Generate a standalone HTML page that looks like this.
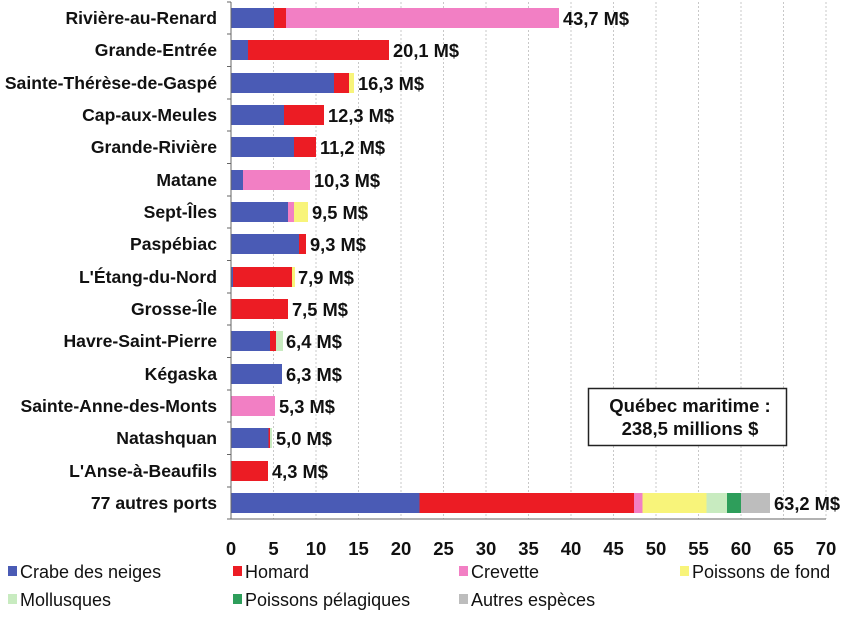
<!DOCTYPE html><html><head><meta charset="utf-8"><style>body{margin:0;background:#fff}svg{display:block}</style></head><body>
<svg width="850" height="617" xmlns="http://www.w3.org/2000/svg" font-family="Liberation Sans, Arial, sans-serif">
<g stroke="#c8c8c8" stroke-dasharray="2,2" stroke-width="1">
<line x1="273.5" y1="2" x2="273.5" y2="519"/><line x1="316" y1="2" x2="316" y2="519"/><line x1="358.5" y1="2" x2="358.5" y2="519"/><line x1="401" y1="2" x2="401" y2="519"/><line x1="443.5" y1="2" x2="443.5" y2="519"/><line x1="486" y1="2" x2="486" y2="519"/><line x1="528.5" y1="2" x2="528.5" y2="519"/><line x1="571" y1="2" x2="571" y2="519"/><line x1="613.5" y1="2" x2="613.5" y2="519"/><line x1="656" y1="2" x2="656" y2="519"/><line x1="698.5" y1="2" x2="698.5" y2="519"/><line x1="741" y1="2" x2="741" y2="519"/><line x1="783.5" y1="2" x2="783.5" y2="519"/><line x1="826" y1="2" x2="826" y2="519"/>
</g>
<g>
<rect x="231" y="8" width="43" height="20" fill="#4a5bb5"/><rect x="274" y="8" width="12" height="20" fill="#ec1c24"/><rect x="286" y="8" width="273" height="20" fill="#f27fc4"/>
<rect x="231" y="40" width="17" height="20" fill="#4a5bb5"/><rect x="248" y="40" width="141" height="20" fill="#ec1c24"/>
<rect x="231" y="73" width="103" height="20" fill="#4a5bb5"/><rect x="334" y="73" width="15" height="20" fill="#ec1c24"/><rect x="349" y="73" width="5" height="20" fill="#f8f47a"/>
<rect x="231" y="105" width="53" height="20" fill="#4a5bb5"/><rect x="284" y="105" width="40" height="20" fill="#ec1c24"/>
<rect x="231" y="137" width="63" height="20" fill="#4a5bb5"/><rect x="294" y="137" width="22" height="20" fill="#ec1c24"/>
<rect x="231" y="170" width="12" height="20" fill="#4a5bb5"/><rect x="243" y="170" width="67" height="20" fill="#f27fc4"/>
<rect x="231" y="202" width="57" height="20" fill="#4a5bb5"/><rect x="288" y="202" width="6" height="20" fill="#f27fc4"/><rect x="294" y="202" width="14" height="20" fill="#f8f47a"/>
<rect x="231" y="234" width="68" height="20" fill="#4a5bb5"/><rect x="299" y="234" width="7" height="20" fill="#ec1c24"/>
<rect x="231" y="267" width="2" height="20" fill="#4a5bb5"/><rect x="233" y="267" width="59" height="20" fill="#ec1c24"/><rect x="292" y="267" width="3" height="20" fill="#f8f47a"/>
<rect x="231" y="299" width="57" height="20" fill="#ec1c24"/>
<rect x="231" y="331" width="39" height="20" fill="#4a5bb5"/><rect x="270" y="331" width="6" height="20" fill="#ec1c24"/><rect x="276" y="331" width="7" height="20" fill="#c8ebc0"/>
<rect x="231" y="364" width="51" height="20" fill="#4a5bb5"/>
<rect x="231" y="396" width="44" height="20" fill="#f27fc4"/>
<rect x="231" y="428" width="37.5" height="20" fill="#4a5bb5"/><rect x="268.5" y="428" width="1.5" height="20" fill="#ec1c24"/><rect x="270" y="428" width="2" height="20" fill="#c8ebc0"/>
<rect x="231" y="461" width="37" height="20" fill="#ec1c24"/>
<rect x="231" y="493" width="188.5" height="20" fill="#4a5bb5"/><rect x="419.5" y="493" width="214.5" height="20" fill="#ec1c24"/><rect x="634" y="493" width="8.5" height="20" fill="#f27fc4"/><rect x="642.5" y="493" width="64" height="20" fill="#f8f47a"/><rect x="706.5" y="493" width="20.5" height="20" fill="#c8ebc0"/><rect x="727" y="493" width="14" height="20" fill="#2e9e5b"/><rect x="741" y="493" width="29" height="20" fill="#bdbdbd"/>
</g>
<g stroke="#666" stroke-width="1">
<line x1="231" y1="2" x2="231" y2="519"/><line x1="231" y1="519" x2="826" y2="519"/>
<line x1="227" y1="2" x2="231" y2="2"/><line x1="227" y1="34" x2="231" y2="34"/><line x1="227" y1="66.5" x2="231" y2="66.5"/><line x1="227" y1="99" x2="231" y2="99"/><line x1="227" y1="131" x2="231" y2="131"/><line x1="227" y1="163.5" x2="231" y2="163.5"/><line x1="227" y1="196" x2="231" y2="196"/><line x1="227" y1="228" x2="231" y2="228"/><line x1="227" y1="260.5" x2="231" y2="260.5"/><line x1="227" y1="293" x2="231" y2="293"/><line x1="227" y1="325" x2="231" y2="325"/><line x1="227" y1="357.5" x2="231" y2="357.5"/><line x1="227" y1="390" x2="231" y2="390"/><line x1="227" y1="422" x2="231" y2="422"/><line x1="227" y1="454.5" x2="231" y2="454.5"/><line x1="227" y1="487" x2="231" y2="487"/><line x1="227" y1="519" x2="231" y2="519"/>
</g>
<g font-weight="bold" font-size="17.6" text-anchor="end" fill="#111">
<text x="217" y="24">Rivière-au-Renard</text><text x="217" y="56">Grande-Entrée</text><text x="217" y="89">Sainte-Thérèse-de-Gaspé</text><text x="217" y="121">Cap-aux-Meules</text><text x="217" y="153">Grande-Rivière</text><text x="217" y="186">Matane</text><text x="217" y="218">Sept-Îles</text><text x="217" y="250">Paspébiac</text><text x="217" y="283">L'Étang-du-Nord</text><text x="217" y="315">Grosse-Île</text><text x="217" y="347">Havre-Saint-Pierre</text><text x="217" y="380">Kégaska</text><text x="217" y="412">Sainte-Anne-des-Monts</text><text x="217" y="444">Natashquan</text><text x="217" y="477">L'Anse-à-Beaufils</text><text x="217" y="509">77 autres ports</text>
</g>
<g font-weight="bold" font-size="18.3" fill="#111">
<text x="563" y="25">43,7 M$</text><text x="393" y="57">20,1 M$</text><text x="358" y="90">16,3 M$</text><text x="328" y="122">12,3 M$</text><text x="320" y="154">11,2 M$</text><text x="314" y="187">10,3 M$</text><text x="312" y="219">9,5 M$</text><text x="310" y="251">9,3 M$</text><text x="298" y="284">7,9 M$</text><text x="292" y="316">7,5 M$</text><text x="286" y="348">6,4 M$</text><text x="286" y="381">6,3 M$</text><text x="279" y="413">5,3 M$</text><text x="276" y="445">5,0 M$</text><text x="272" y="478">4,3 M$</text><text x="774" y="510">63,2 M$</text>
</g>
<g font-weight="bold" font-size="18.5" text-anchor="middle" fill="#111">
<text x="231" y="555">0</text><text x="273.5" y="555">5</text><text x="316" y="555">10</text><text x="358.5" y="555">15</text><text x="401" y="555">20</text><text x="443.5" y="555">25</text><text x="486" y="555">30</text><text x="528.5" y="555">35</text><text x="571" y="555">40</text><text x="613.5" y="555">45</text><text x="656" y="555">50</text><text x="698.5" y="555">55</text><text x="741" y="555">60</text><text x="783.5" y="555">65</text><text x="826" y="555">70</text>
</g>
<rect x="588.5" y="388.5" width="198" height="57" fill="#fff" stroke="#222" stroke-width="1.5"/>
<g font-weight="bold" font-size="18.5" text-anchor="middle" fill="#111"><text x="690" y="412">Québec maritime :</text><text x="690" y="435">238,5 millions $</text></g>
<g font-size="18" fill="#111">
<rect x="8" y="566" width="9" height="10" fill="#4a5bb5"/><text x="20" y="578">Crabe des neiges</text>
<rect x="233" y="566" width="9" height="10" fill="#ec1c24"/><text x="245" y="578">Homard</text>
<rect x="459" y="566" width="9" height="10" fill="#f27fc4"/><text x="471" y="578">Crevette</text>
<rect x="680" y="566" width="9" height="10" fill="#f8f47a"/><text x="692" y="578">Poissons de fond</text>
<rect x="8" y="594" width="9" height="10" fill="#c8ebc0"/><text x="20" y="606">Mollusques</text>
<rect x="233" y="594" width="9" height="10" fill="#2e9e5b"/><text x="245" y="606">Poissons pélagiques</text>
<rect x="459" y="594" width="9" height="10" fill="#bdbdbd"/><text x="471" y="606">Autres espèces</text>
</g>
</svg>
</body></html>
